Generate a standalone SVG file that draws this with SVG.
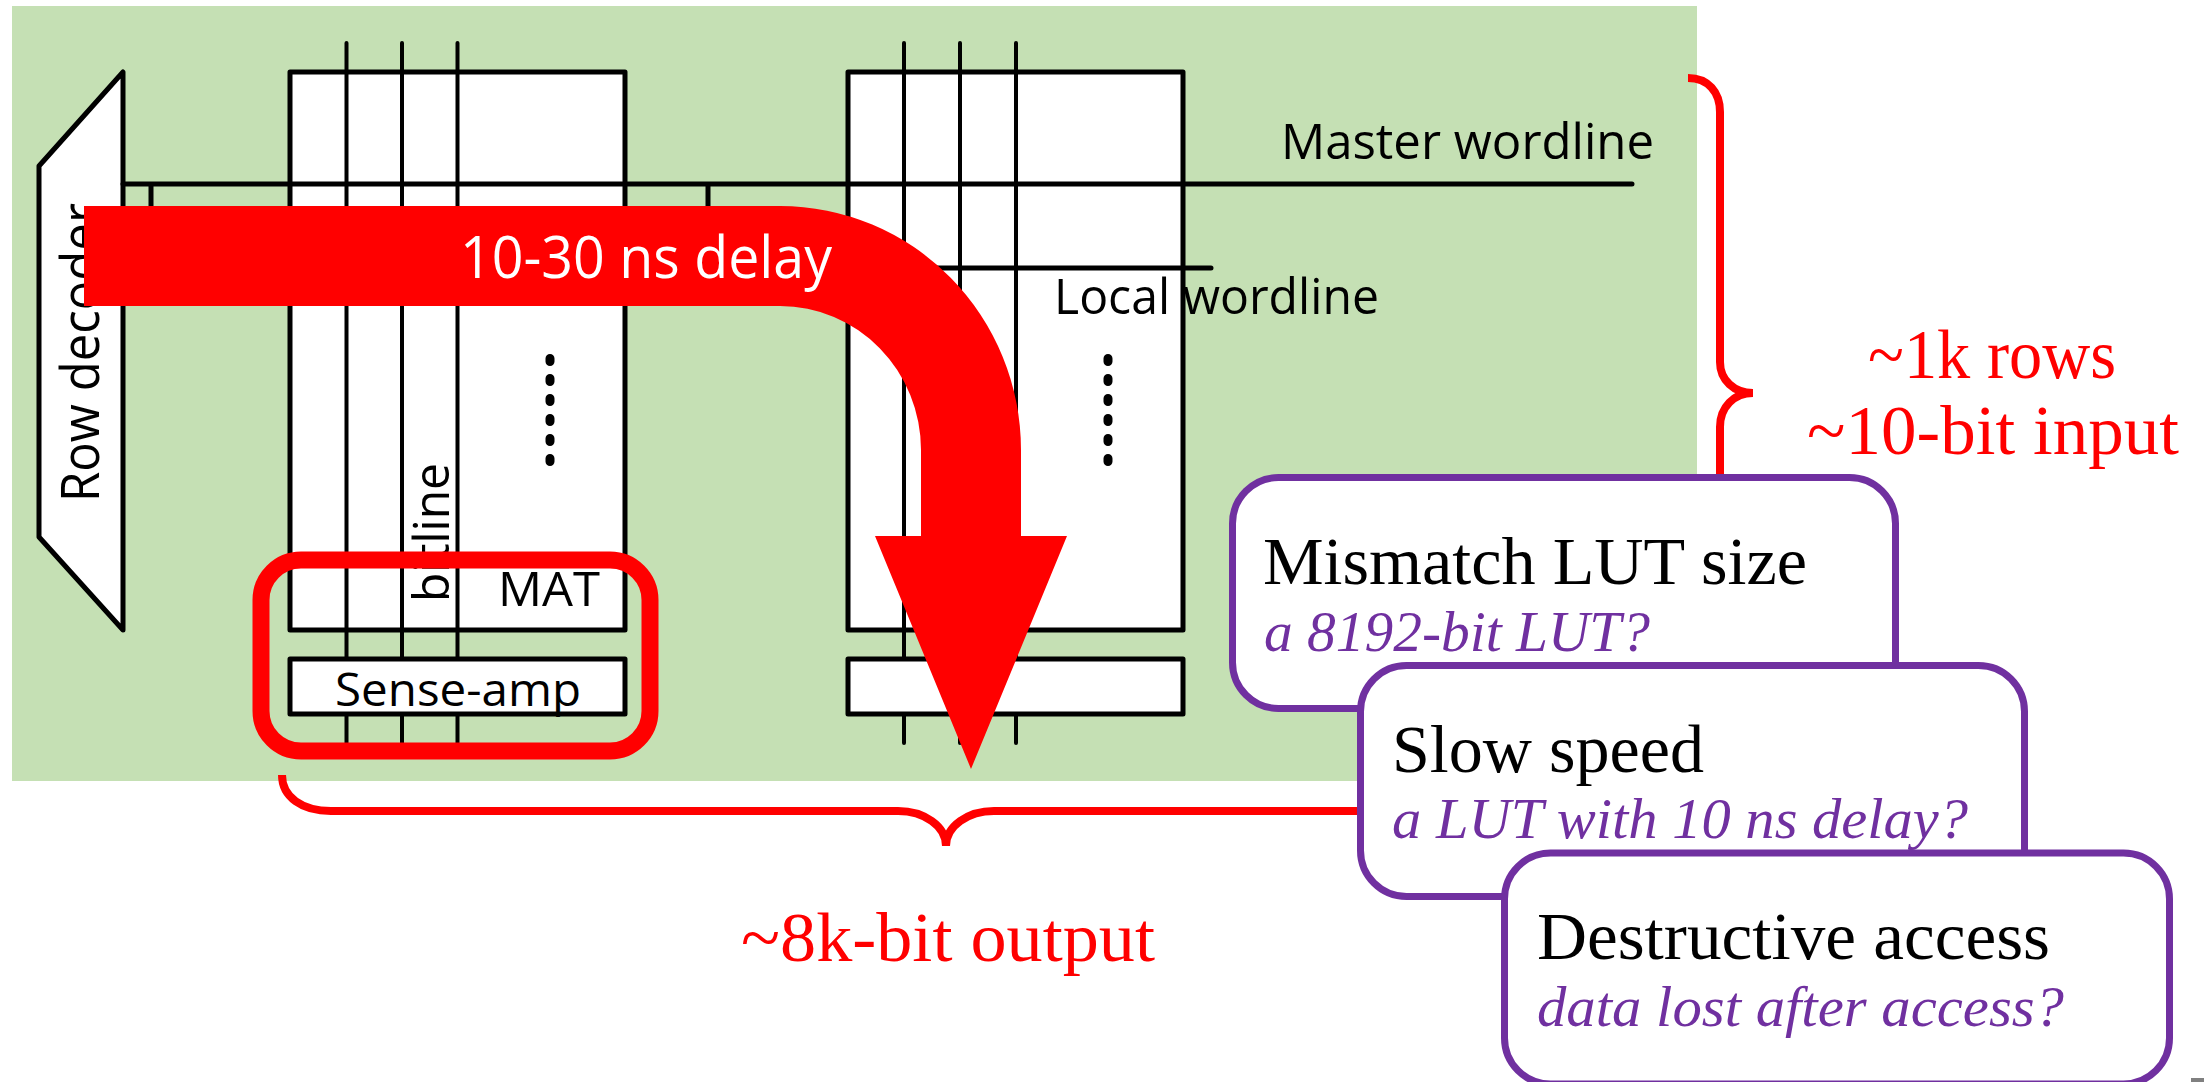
<svg xmlns="http://www.w3.org/2000/svg" width="2204" height="1082" viewBox="0 0 2204 1082">
<style>
.w{fill:#fff;stroke:#000;stroke-width:5;stroke-linejoin:round}
.l{fill:none;stroke:#000;stroke-width:4;stroke-linecap:round}
.m{fill:none;stroke:#000;stroke-width:5;stroke-linecap:round}
.d{fill:none;stroke:#000;stroke-width:9;stroke-linecap:round;stroke-dasharray:3 17}
.b{fill:none;stroke:#f00;stroke-width:8}
.s{font-family:"Open Sans","Liberation Sans",sans-serif;fill:#000}
.r{font-family:"Liberation Serif",serif;fill:#f00}
.h{font-family:"Liberation Serif",serif;fill:#000;font-size:67px}
.i{font-family:"Liberation Serif",serif;fill:#7030A0;font-size:56px;font-style:italic}
.c{fill:#fff;stroke:#7030A0;stroke-width:7}
</style>
<rect id="background" x="12" y="6" width="1685" height="775" fill="#C5E0B4"/>
<g id="row-decoder">
<path class="w" d="M123 72V630L39 537V166Z"/>
<text class="s" font-size="53" transform="translate(99 502) rotate(-90)" textLength="299" lengthAdjust="spacingAndGlyphs">Row decoder</text>
</g>
<g id="mat-1">
<rect class="w" x="290" y="72" width="335" height="558"/>
<path class="d" d="M550 358.500V462"/>
<text class="s" font-size="50" transform="translate(449 602) rotate(-90)" textLength="139" lengthAdjust="spacingAndGlyphs">bitline</text>
<text class="s" font-size="48" x="498" y="606" textLength="102" lengthAdjust="spacingAndGlyphs">MAT</text>
</g>
<g id="mat-2">
<rect class="w" x="848" y="72" width="335" height="558"/>
<path class="d" d="M1108 358.500V462"/>
</g>
<g id="connectors">
<path class="l" d="M346.500 43V659M402 43V659M457.500 43V659M904 43V659M960 43V659M1016 43V659M346.500 714V743M402 714V743M457.500 714V743M904 714V743M960 714V743M1016 714V743"/>
<path class="m" d="M123 184H1632M151 184V240M708 184V268H1211"/>
<path class="b" d="M1688 78C1708 78 1720 92 1720 112V362C1720 380 1734 393 1753 393C1734 393 1720 407 1720 427V480"/>
<path class="b" d="M282 775C282 797 302 811 331 811H898C924 811 946 826 946 846C946 826 968 811 994 811H1362"/>
</g>
<g id="sense-amp-1">
<rect class="w" x="290" y="659" width="335" height="55"/>
<text class="s" font-size="46" x="335" y="706" textLength="246" lengthAdjust="spacingAndGlyphs">Sense-amp</text>
</g>
<g id="sense-amp-2">
<rect class="w" x="848" y="659" width="335" height="55"/>
</g>
<g id="highlight">
<rect x="261" y="560" width="389" height="191" rx="40" ry="40" fill="none" stroke="#f00" stroke-width="17"/>
</g>
<g id="delay-arrow">
<path fill="#f00" d="M84 206H780A241 244 0 0 1 1021 450V536H1067L971 769L875 536H921V450A141 144 0 0 0 780 306H84Z"/>
<text class="s" font-size="58" style="fill:#fff" x="460" y="278" textLength="372" lengthAdjust="spacingAndGlyphs">10-30 ns delay</text>
</g>
<g id="labels">
<text class="s" font-size="50" x="1281" y="159" textLength="373" lengthAdjust="spacingAndGlyphs">Master wordline</text>
<text class="s" font-size="50" x="1054" y="314" textLength="325" lengthAdjust="spacingAndGlyphs">Local wordline</text>
<text class="r" font-size="70" x="741" y="961" textLength="414" lengthAdjust="spacingAndGlyphs">~8k-bit output</text>
<text class="r" font-size="70" x="1868" y="378" textLength="248" lengthAdjust="spacingAndGlyphs">~1k rows</text>
<text class="r" font-size="70" x="1807" y="454" textLength="372" lengthAdjust="spacingAndGlyphs">~10-bit input</text>
</g>
<g id="card-mismatch">
<rect class="c" x="1232.500" y="477.500" width="663" height="231" rx="46" ry="46"/>
<text class="h" x="1263" y="584" textLength="544" lengthAdjust="spacingAndGlyphs">Mismatch LUT size</text>
<text class="i" x="1264" y="651" textLength="386" lengthAdjust="spacingAndGlyphs">a 8192-bit LUT?</text>
</g>
<g id="card-slow">
<rect class="c" x="1360.500" y="665.500" width="664" height="231" rx="46" ry="46"/>
<text class="h" x="1392" y="772" textLength="312" lengthAdjust="spacingAndGlyphs">Slow speed</text>
<text class="i" x="1392" y="838" textLength="576" lengthAdjust="spacingAndGlyphs">a LUT with 10 ns delay?</text>
</g>
<g id="card-destructive">
<rect class="c" x="1504.500" y="853" width="665" height="231" rx="46" ry="46"/>
<text class="h" x="1537" y="959" textLength="513" lengthAdjust="spacingAndGlyphs">Destructive access</text>
<text class="i" x="1537" y="1026" textLength="527" lengthAdjust="spacingAndGlyphs">data lost after access?</text>
</g>
<rect id="corner-mark" x="2191" y="1078" width="13" height="4" fill="#808080"/>
</svg>
